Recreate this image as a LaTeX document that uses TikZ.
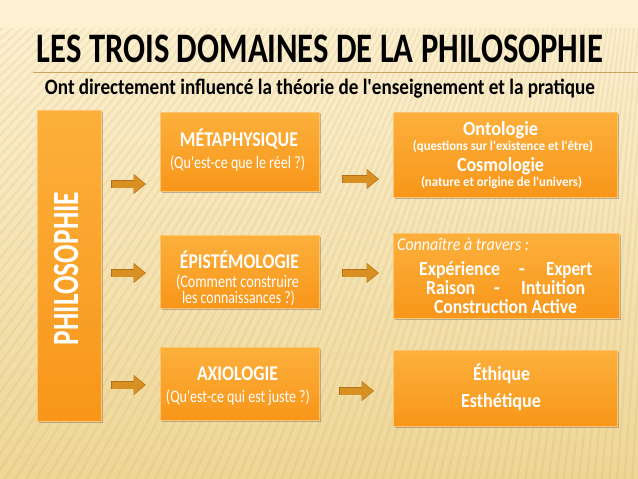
\documentclass[tikz,border=0pt]{standalone}
\usepackage{fontspec}
\setmainfont{Carlito}
\usepackage{graphicx}
\usetikzlibrary{shadows,arrows.meta}
\definecolor{bgtop}{RGB}{253,242,212}
\definecolor{bgmid}{RGB}{250,231,183}
\definecolor{bgbot}{RGB}{238,214,150}
\definecolor{stripe}{RGB}{196,158,88}
\definecolor{boxtop}{RGB}{252,176,60}
\definecolor{boxbot}{RGB}{248,150,26}
\definecolor{boxedge}{RGB}{255,196,110}
\definecolor{arrc}{RGB}{216,144,34}
\definecolor{arredge}{RGB}{180,112,24}
\definecolor{rulec}{RGB}{200,165,100}
\newcommand\hfit[2]{\resizebox{#1}{\height}{#2}}
\newcommand\qq{\textquotesingle}
\begin{document}
\begin{tikzpicture}[x=1pt,y=-1pt,
  orbox/.style={rectangle, inner sep=0pt, outer sep=0pt, top color=boxtop, bottom color=boxbot,
    draw=boxedge, line width=0.6pt,
    drop shadow={opacity=0.35, shadow xshift=1.5pt, shadow yshift=-2pt, fill=black!70}},
  wt/.style={text=white, inner sep=0pt, anchor=base},
  bk/.style={text=black, inner sep=0pt, anchor=base},
  big/.style={font=\fontsize{21}{24}\selectfont\bfseries},
  med/.style={font=\fontsize{20}{23}\selectfont\bfseries},
  reg/.style={font=\fontsize{17.5}{20}\selectfont},
  sml/.style={font=\fontsize{13.5}{15}\selectfont\bfseries},
  blockarr/.style={line width=7pt, draw=arrc, -{Triangle[length=11pt,width=17pt]}},
  arrline/.style={line width=8.6pt, draw=arredge, -{Triangle[length=12.5pt,width=19.5pt]}},
]
\useasboundingbox (0,0) rectangle (638,479);
% background
\shade[top color=bgtop, middle color=bgmid, bottom color=bgbot] (0,0) rectangle (638,479);
\begin{scope}
  \clip (0,28) rectangle (638,479);
  \foreach \a in {90,90.4,...,142}
    \draw[stripe, opacity=0.13, line width=2.2pt] (700,-600) -- ++(\a:2000);
\end{scope}

% title
\node[bk, font=\fontsize{42}{48}\selectfont\bfseries] (title) at (320,62.7)
  {\hfit{566pt}{LES TROIS DOMAINES DE LA PHILOSOPHIE}};
\draw[rulec, line width=0.8pt] (33,72.7) -- (638,72.7);
\node[bk, font=\fontsize{22}{26}\selectfont\bfseries] (sub) at (320,94)
  {\hfit{550pt}{Ont directement influencé la théorie de l\qq enseignement et la pratique}};

% boxes
\node[orbox, minimum width=64pt, minimum height=311pt] (phil) at (69,265.5) {};
\node[orbox, minimum width=159pt, minimum height=79pt] (met) at (239.5,151.5) {};
\node[orbox, minimum width=159pt, minimum height=73pt] (epi) at (239.5,271.5) {};
\node[orbox, minimum width=159pt, minimum height=73pt] (axi) at (239.5,383.5) {};
\node[orbox, minimum width=224pt, minimum height=85pt] (onto) at (505,154.5) {};
\node[orbox, minimum width=226pt, minimum height=85pt] (conn) at (506,275.5) {};
\node[orbox, minimum width=224pt, minimum height=76pt] (eth) at (505,388) {};

% arrows
\coordinate (l1s) at (112,184); \coordinate (l1e) at (145,184);
\coordinate (l2s) at (112,273); \coordinate (l2e) at (145,273);
\coordinate (l3s) at (112,385); \coordinate (l3e) at (145,385);
\coordinate (r1s) at (343,179); \coordinate (r1e) at (378,179);
\coordinate (r2s) at (343,273); \coordinate (r2e) at (378,273);
\coordinate (r3s) at (340,391); \coordinate (r3e) at (373,391);
\foreach \s/\e in {l1s/l1e,l2s/l2e,l3s/l3e,r1s/r1e,r2s/r2e,r3s/r3e}{
  \draw[arrline, shorten <=-0.8pt, shorten >=-1pt] (\s) -- (\e);
  \draw[blockarr] (\s) -- (\e);
}

% texts
\node[wt, rotate=90, font=\fontsize{37}{40}\selectfont\bfseries] (philt) at (78,268.5)
  {\hfit{153pt}{PHILOSOPHIE}};

\node[wt, big] (mett) at (239,146) {\hfit{118pt}{MÉTAPHYSIQUE}};
\node[wt, reg] (metq) at (237.5,168) {\hfit{135pt}{(Qu\qq est-ce que le réel ?)}};

\node[wt, big] (epit) at (239.5,268) {\hfit{119pt}{ÉPISTÉMOLOGIE}};
\node[wt, reg] (epiq1) at (237.5,287) {\hfit{123pt}{(Comment construire}};
\node[wt, reg] (epiq2) at (238.5,303) {\hfit{113pt}{les connaissances ?)}};

\node[wt, big] (axit) at (237.5,380) {\hfit{81pt}{AXIOLOGIE}};
\node[wt, reg] (axiq) at (238,402) {\hfit{144pt}{(Qu\qq est-ce qui est juste ?)}};

\node[wt, med] (ont1) at (500.5,135) {\hfit{75pt}{Ontologie}};
\node[wt, sml] (ont2) at (503,150) {\hfit{180pt}{(questions sur l\qq existence et l\qq être)}};
\node[wt, med] (cos1) at (500.5,171) {\hfit{87pt}{Cosmologie}};
\node[wt, sml] (cos2) at (501.5,186) {\hfit{161pt}{(nature et origine de l\qq univers)}};

\node[wt, anchor=base west, font=\fontsize{18}{20}\selectfont\itshape] (cat) at (397,250)
  {\hfit{132pt}{Connaître à travers :}};
\node[wt, med, anchor=base west] (exp1) at (419,275) {\hfit{81pt}{Expérience}};
\node[wt, med] (dash1) at (522,275) {-};
\node[wt, med, anchor=base west] (exp2) at (546,275) {\hfit{46pt}{Expert}};
\node[wt, med, anchor=base west] (rai1) at (426,294) {\hfit{49pt}{Raison}};
\node[wt, med] (dash2) at (497,294) {-};
\node[wt, med, anchor=base west] (rai2) at (521,294) {\hfit{64pt}{Intuition}};
\node[wt, med] (cons) at (505.5,313) {\hfit{143pt}{Construction Active}};

\node[wt, med] (eth1) at (501.5,380) {\hfit{57pt}{Éthique}};
\node[wt, med] (eth2) at (501,407) {\hfit{80pt}{Esthétique}};
\end{tikzpicture}
\end{document}
